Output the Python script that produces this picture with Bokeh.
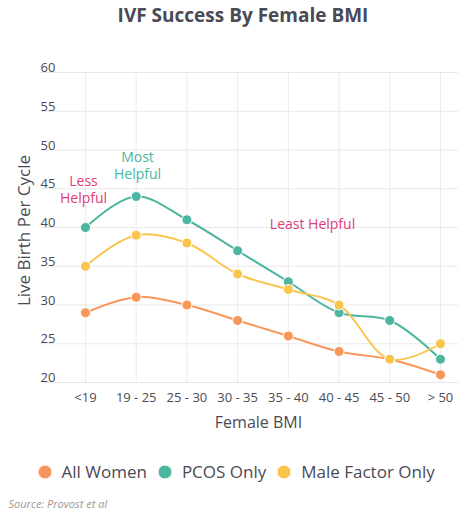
import math
from bokeh.plotting import figure
from bokeh.models import Range1d, Legend, LegendItem, FixedTicker
from bokeh.layouts import column
from bokeh.core.properties import value
from bokeh.embed import file_html
from bokeh.resources import INLINE

categories = ["<19", "19 - 25", "25 - 30", "30 - 35", "35 - 40", "40 - 45", "45 - 50", "> 50"]
all_women = [29, 31, 30, 28, 26, 24, 23, 21]
pcos_only = [40, 44, 41, 37, 33, 29, 28, 23]
male_factor = [35, 39, 38, 34, 32, 30, 23, 25]
y_ticks = [20, 25, 30, 35, 40, 45, 50, 55, 60]

series = [
    ("All Women", all_women, "#F9965A"),
    ("PCOS Only", pcos_only, "#4DB6A0"),
    ("Male Factor Only", male_factor, "#F9C54D"),
]

FONT = "Open Sans"
TXT = "#4a4a55"
PINK = "#DE3D78"

W = 458
HA, HB = 410, 103
FH = 386
FB = HA - FH
GL = 40            # left edge of the grid area
kx = 50.71         # px per category
ky = 7.75          # px per unit
x0 = -(85 / kx)    # first category sits 85px from the left edge
x1 = x0 + W / kx
y0 = 20 - 4 / ky
y1 = y0 + FH / ky


def px2x(px):
    return px / kx + x0


def py2y(py):
    return y1 - py / ky


p = figure(width=W, height=HA, output_backend="svg", toolbar_location=None,
           x_range=Range1d(x0, x1), y_range=Range1d(y0, y1),
           min_border_left=0, min_border_top=0, min_border_right=0,
           min_border_bottom=FB, title=None)
p.outline_line_color = None
p.background_fill_color = "white"
p.border_fill_color = "white"
p.grid.visible = False
p.yaxis.visible = False

xs = list(range(len(categories)))
# grid lines
p.segment(x0=[px2x(GL)] * len(y_ticks), y0=y_ticks, x1=[x1] * len(y_ticks),
          y1=y_ticks, line_color="#e8e8e8", line_width=1)
p.segment(x0=xs, y0=[y_ticks[0]] * len(xs), x1=xs, y1=[y_ticks[-1]] * len(xs),
          line_color="#ececec", line_width=1)

# x axis
p.xaxis.ticker = FixedTicker(ticks=xs)
p.xaxis.major_label_overrides = {i: c for i, c in enumerate(categories)}
p.xaxis.axis_line_color = None
p.xaxis.major_tick_line_color = None
p.xaxis.minor_tick_line_color = None
p.xaxis.major_tick_out = 0
p.xaxis.major_tick_in = 0
p.xaxis.minor_tick_out = 0
p.xaxis.major_label_text_font = FONT
p.xaxis.major_label_text_font_size = "13px"
p.xaxis.major_label_text_color = TXT
p.xaxis.major_label_standoff = 1

# y tick labels above grid lines
p.text(x=[px2x(GL)] * len(y_ticks), y=y_ticks, text=[str(t) for t in y_ticks],
       text_font=value(FONT), text_font_size="13px", text_color=TXT,
       text_align="left", text_baseline="alphabetic", y_offset=-5)

# y axis title
p.text(x=[px2x(23)], y=[py2y(230)], text=["Live Birth Per Cycle"],
       text_font=value(FONT), text_font_size="17px", text_color=TXT,
       text_align="center", text_baseline="middle", angle=math.pi / 2)


def tangent(prev, cur, nxt, s=1.0):
    d1x, d1y = prev[0] - cur[0], prev[1] - cur[1]
    d2x, d2y = nxt[0] - cur[0], nxt[1] - cur[1]
    d1a = (d1x * d1x + d1y * d1y) ** 0.25
    d2a = (d2x * d2x + d2y * d2y) ** 0.25
    numx = (d2a * d2a * d1x - d1a * d1a * d2x) * s
    numy = (d2a * d2a * d1y - d1a * d1a * d2y) * s
    den1 = 3 * d2a * (d1a + d2a)
    den2 = 3 * d1a * (d1a + d2a)
    before = (cur[0] + numx / den1, cur[1] + numy / den1)
    after = (cur[0] - numx / den2, cur[1] - numy / den2)
    return before, after


def spline(xv, yv):
    pts = [(x * kx, y * ky) for x, y in zip(xv, yv)]
    tans = [tangent(pts[i - 1], pts[i], pts[i + 1]) for i in range(1, len(pts) - 1)]
    n = len(pts)
    d = dict(x0=[], y0=[], x1=[], y1=[], cx0=[], cy0=[], cx1=[], cy1=[])
    for i in range(n - 1):
        a, b = pts[i], pts[i + 1]
        if i == 0 or i == n - 2:
            q = tans[0][0] if i == 0 else tans[-1][1]
            c1 = (a[0] + 2 / 3 * (q[0] - a[0]), a[1] + 2 / 3 * (q[1] - a[1]))
            c2 = (b[0] + 2 / 3 * (q[0] - b[0]), b[1] + 2 / 3 * (q[1] - b[1]))
        else:
            c1 = tans[i - 1][1]
            c2 = tans[i][0]
        d["x0"].append(a[0] / kx); d["y0"].append(a[1] / ky)
        d["x1"].append(b[0] / kx); d["y1"].append(b[1] / ky)
        d["cx0"].append(c1[0] / kx); d["cy0"].append(c1[1] / ky)
        d["cx1"].append(c2[0] / kx); d["cy1"].append(c2[1] / ky)
    return d


for name, vals, col in series:
    p.bezier(line_color=col, line_width=2, **spline(xs, vals))
for name, vals, col in series:
    p.scatter(xs, vals, size=10, marker="circle", fill_color=col,
              line_color="white", line_width=1)

# annotations
ann_t = ["Less", "Helpful", "Most", "Helpful", "Least Helpful"]
ann_px = [83, 83, 137, 137, 312]
ann_py = [180, 197, 156, 173, 223]
ann_c = [PINK, PINK, "#4DB6A0", "#4DB6A0", PINK]
p.text(x=[px2x(v) for v in ann_px], y=[py2y(v) for v in ann_py], text=ann_t,
       text_color=ann_c, text_font=value(FONT), text_font_size="14px",
       text_align="center", text_baseline="middle")

# chart title
p.text(x=[px2x(242.5)], y=[py2y(14)], text=["IVF Success By Female BMI"],
       text_color=TXT, text_font=value(FONT), text_font_size="19px",
       text_font_style="bold", text_align="center", text_baseline="middle")

# ---- axis title, legend and source strip below the chart ----
q = figure(width=W, height=HB, output_backend="svg", toolbar_location=None,
           x_range=Range1d(0, W), y_range=Range1d(HB, 0),
           min_border_left=0, min_border_right=0, min_border_top=0,
           min_border_bottom=0, title=None)
q.axis.visible = False
q.grid.visible = False
q.outline_line_color = None
q.background_fill_color = "white"
q.border_fill_color = "white"

q.text(x=[258], y=[11], text=["Female BMI"], text_font=value(FONT),
       text_font_size="16px", text_color=TXT, text_align="center",
       text_baseline="middle")

items = []
for name, vals, col in series:
    r = q.scatter(xs, vals, size=10, marker="circle", fill_color=col,
                  line_color="white", line_width=1, visible=False)
    items.append(LegendItem(label=name, renderers=[r]))

legend = Legend(items=items, orientation="horizontal", location=(26.5, 24.5),
                glyph_width=35, glyph_height=35, label_standoff=0, spacing=0,
                padding=0, margin=0, border_line_color=None,
                background_fill_alpha=0, inactive_fill_alpha=0,
                label_text_font=FONT, label_text_font_size="17px",
                label_text_color=TXT)
q.add_layout(legend, "center")

q.text(x=[8], y=[93], text=["Source: Provost et al"], text_font=value(FONT),
       text_font_size="11px", text_font_style="italic", text_color="#999999",
       text_align="left", text_baseline="middle")

open("out.html", "w").write(file_html(column(p, q, spacing=0), INLINE))
